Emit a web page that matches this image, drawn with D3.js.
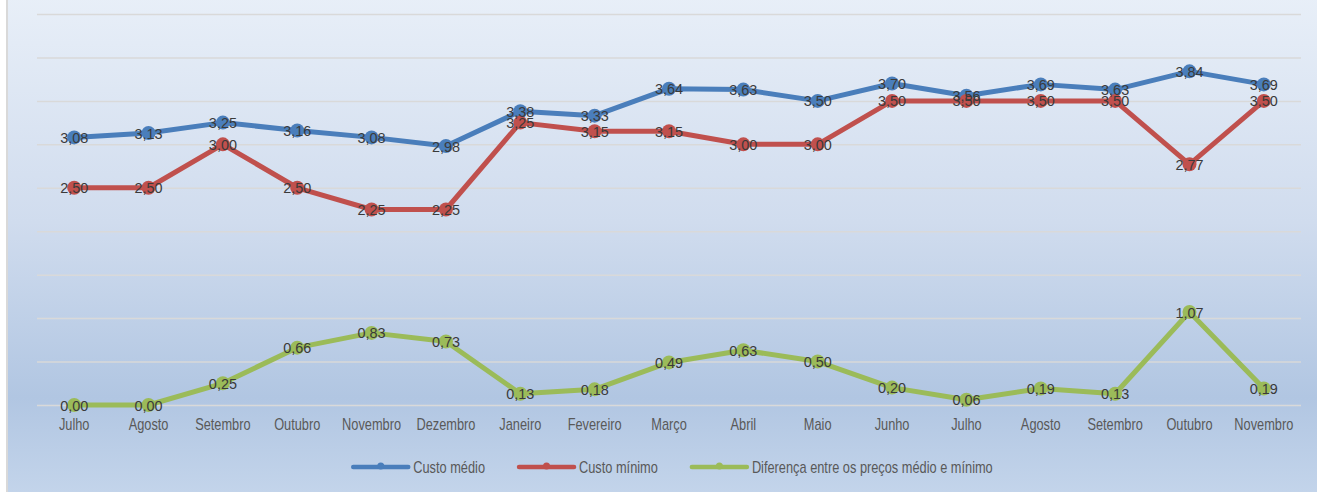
<!DOCTYPE html>
<html>
<head>
<meta charset="utf-8">
<script src="https://cdn.jsdelivr.net/npm/d3@7"></script>
<style>
  html, body { margin: 0; padding: 0; background: #ffffff; }
  svg { display: block; }
</style>
</head>
<body>
<svg id="chart" width="1317" height="492"></svg>
<script>
// Monthly price series (Julho through Novembro of the following year)
const months = ["Julho", "Agosto", "Setembro", "Outubro", "Novembro", "Dezembro",
  "Janeiro", "Fevereiro", "Março", "Abril", "Maio", "Junho",
  "Julho", "Agosto", "Setembro", "Outubro", "Novembro"];

const custoMedio = [3.08, 3.13, 3.25, 3.16, 3.08, 2.98, 3.38, 3.33, 3.64, 3.63, 3.50, 3.70, 3.56, 3.69, 3.63, 3.84, 3.69];
const custoMinimo = [2.50, 2.50, 3.00, 2.50, 2.25, 2.25, 3.25, 3.15, 3.15, 3.00, 3.00, 3.50, 3.50, 3.50, 3.50, 2.77, 3.50];
const diferenca = [0.00, 0.00, 0.25, 0.66, 0.83, 0.73, 0.13, 0.18, 0.49, 0.63, 0.50, 0.20, 0.06, 0.19, 0.13, 1.07, 0.19];

const seriesNames = ["Custo médio", "Custo mínimo", "Diferença entre os preços médio e mínimo"];
const seriesColors = ["#4a7ebb", "#c0504d", "#9bbb59"];
const yTicks = [0, 0.5, 1, 1.5, 2, 2.5, 3, 3.5, 4, 4.5];

const series = [custoMedio, custoMinimo, diferenca].map((values, i) => ({
  name: seriesNames[i], color: seriesColors[i], values
}));

const W = 1317, H = 492;
const plot = { left: 37, right: 1301, top: 14, bottom: 405 };
const sansFont = '"Liberation Sans", Arial, sans-serif';
const narrowScale = 0.8;   // condensed look for axis and legend text

const svg = d3.select("#chart");

// background panel with vertical gradient
const defs = svg.append("defs");
const grad = defs.append("linearGradient")
  .attr("id", "bg").attr("x1", 0).attr("y1", 0).attr("x2", 0).attr("y2", 1);
grad.append("stop").attr("offset", "0%").attr("stop-color", "#e8eff8");
grad.append("stop").attr("offset", "45%").attr("stop-color", "#d0dcee");
grad.append("stop").attr("offset", "80%").attr("stop-color", "#b1c6e2");
grad.append("stop").attr("offset", "100%").attr("stop-color", "#c4d5eb");

svg.append("rect")
  .attr("x", 7).attr("y", -4).attr("width", W + 10).attr("height", H + 10)
  .attr("fill", "url(#bg)")
  .attr("stroke", "#d9d9d9").attr("stroke-width", 2);

const x = d3.scaleBand()
  .domain(d3.range(months.length))
  .range([plot.left, plot.right]);

const y = d3.scaleLinear()
  .domain([0, 4.5])
  .range([plot.bottom, plot.top]);

const cx = i => x(i) + x.bandwidth() / 2;

// horizontal gridlines
svg.append("g")
  .attr("class", "grid")
  .attr("transform", `translate(${plot.left},0)`)
  .call(d3.axisLeft(y).tickValues(yTicks).tickSize(-(plot.right - plot.left)).tickFormat(""))
  .call(g => g.select(".domain").remove())
  .call(g => g.selectAll(".tick line").attr("stroke", "#d9d9d9").attr("stroke-width", 1.5));

// category axis
svg.append("g")
  .attr("class", "axis")
  .attr("transform", `translate(0,${plot.bottom})`)
  .call(d3.axisBottom(x).tickSize(0).tickPadding(14).tickFormat(i => months[i]))
  .call(g => g.select(".domain").remove())
  .call(g => g.selectAll("text")
    .attr("fill", "#595959")
    .attr("transform", `scale(${narrowScale},1)`)
    .style("font-family", sansFont)
    .style("font-size", "16px"));

// series lines and markers
const line = d3.line()
  .x((d, i) => cx(i))
  .y(d => y(d));

const sg = svg.append("g");
series.forEach(s => {
  sg.append("path")
    .datum(s.values)
    .attr("fill", "none")
    .attr("stroke", s.color)
    .attr("stroke-width", 5)
    .attr("stroke-linejoin", "round")
    .attr("d", line);
  sg.selectAll(null)
    .data(s.values)
    .join("circle")
    .attr("cx", (d, i) => cx(i))
    .attr("cy", d => y(d))
    .attr("r", 7)
    .attr("fill", s.color);
});

// data labels centred on each point
const fmt = v => v.toFixed(2).replace(".", ",");
const lg = svg.append("g");
series.forEach(s => {
  lg.selectAll(null)
    .data(s.values)
    .join("text")
    .attr("transform", (d, i) => `translate(${cx(i)},${y(d)}) scale(0.93,1)`)
    .attr("dy", "0.36em")
    .attr("text-anchor", "middle")
    .attr("fill", "#3a3a3a")
    .style("font-family", sansFont)
    .style("font-size", "15.5px")
    .text(d => fmt(d));
});

// legend
const legend = svg.append("g");
let cursor = 0;
series.forEach(s => {
  const it = legend.append("g").attr("transform", `translate(${cursor},0)`);
  it.append("line")
    .attr("x1", 0).attr("x2", 55).attr("y1", 0).attr("y2", 0)
    .attr("stroke", s.color).attr("stroke-width", 4.5).attr("stroke-linecap", "round");
  it.append("circle").attr("cx", 27.5).attr("cy", -1).attr("r", 3.5).attr("fill", s.color);
  const t = it.append("text")
    .attr("transform", `translate(60,0) scale(${narrowScale},1)`)
    .attr("dy", "0.35em")
    .attr("fill", "#595959")
    .style("font-family", sansFont)
    .style("font-size", "16px")
    .text(s.name);
  const w = 60 + t.node().getComputedTextLength() * narrowScale;
  cursor += w + 34;
});
const total = cursor - 34;
legend.attr("transform", `translate(${673 - total / 2},467)`);
</script>
</body>
</html>
